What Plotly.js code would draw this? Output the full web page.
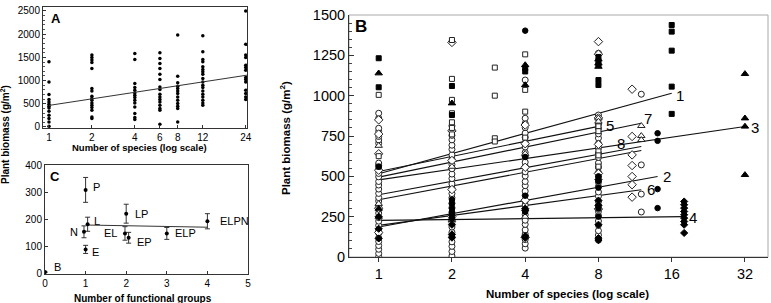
<!DOCTYPE html>
<html><head><meta charset="utf-8">
<script src="https://cdn.plot.ly/plotly-3.0.1.min.js"></script>
<style>html,body{margin:0;padding:0;background:#fff}#chart{width:771px;height:303px}</style>
</head><body><div id="chart"></div>
<script>
// ---------- Panel A: biomass vs species (log) ----------
const aX = [1,1,1,1,1,1,1,1,1,1,1,1,1,
  2,2,2,2,2,2,2,2,2,2,2,2,2,2,2,2,
  4,4,4,4,4,4,4,4,4,4,4,4,4,4,
  6,6,6,6,6,6,6,6,6,6,6,6,6,6,6,6,
  8,8,8,8,8,8,8,8,8,8,8,8,8,
  12,12,12,12,12,12,12,12,12,12,12,12,12,12,12,12,12,12,
  24,24,24,24,24,24,24,24,24,24,24,24,24,24];
const aY = [1405,972,700,592,540,490,447,411,339,253,181,108,15,
  1549,1499,1441,1392,1262,830,778,663,613,577,519,469,419,361,216,181,
  1586,1456,938,851,793,735,685,635,577,519,432,289,203,160,
  1599,1478,1370,1262,1139,1024,864,808,707,648,592,540,469,398,361,58,
  1982,1096,951,880,830,778,722,648,577,506,447,398,108,
  1966,1621,1456,1405,1297,1240,1189,1139,1046,972,901,851,778,707,648,577,519,469,
  2500,1781,1549,1499,1333,1283,1225,1068,1024,972,793,722,648,592];
const aFitX = [1, 24.5];
const aFitY = [465, 1117];
const aTicks = [1,2,4,6,8,12,24];

// ---------- Panel C: functional groups ----------
const cX = [0, 1, 1.05, 0.96, 1.0, 2.0, 1.97, 2.06, 3.0, 4.0];
const cY = [4, 308, 181, 153, 88, 220, 147, 131, 147, 192];
const cErr = [0, 46, 26, 22, 15, 35, 25, 20, 22, 28];
const cLabels = ['B','P','L','N','E','LP','EL','EP','ELP','ELPN'];
const cFitX = [1.05, 4.0];
const cFitY = [178, 170];

// ---------- Panel B: sites ----------
const ocX = [1,1,1,1,1,1,1,1,1,1,1,1,1,1,1,1,1,1,1,1,1,1,1,1,1,1,1,1,1,1,1,1,
  2,2,2,2,2,2,2,2,2,2,2,2,2,2,2,2,2,2,2,2,2,2,2,2,2,2,2,2,2,
  4,4,4,4,4,4,4,4,4,4,4,4,4,4,4,4,4,4,4,4,4,4,4,4,4,4,4,4,4,
  8,8,8,8,8,8,8,8,8,8,8,8,8,8,8,8,8,8,8,8,8,8,8,8,8,8,8,8,
  12,12,12,12];
const ocY = [2,22,48,71,96,118,147,168,196,222,244,272,296,318,347,368,394,421,446,468,497,518,544,568,582,705,726,747,778,798,860,891,
  6,34,66,94,126,153,186,213,247,274,306,333,367,393,427,453,486,514,547,573,606,633,667,693,726,754,786,813,1335,
  55,82,108,142,168,202,228,262,288,322,348,382,408,442,468,502,528,562,588,622,648,682,708,742,768,802,828,860,1097,
  104,136,163,197,223,257,283,317,343,377,403,437,463,497,523,557,583,617,643,677,703,737,763,797,823,857,880,1263,
  1009,571,390,279];
const odX = [1,1,1,1,1,1, 2,2,2,2,2, 4,4,4,4,4, 8,8,8,8,8,8, 11,11,11,11,11,11,11];
const odY = [850,762,640,538,302,152, 1330,782,598,418,252, 818,702,556,352,122, 1335,1257,862,698,518,298, 1040,747,633,567,499,448,371];
const osX = [1,1,1, 2,2,2,2,2,2,2, 3,3,3,3, 4,4,4,4, 8,8,8,8,8];
const osY = [1005,625,560, 1345,1104,974,891,835,800,760, 1174,1000,736,716, 1256,1036,901,740, 810,780,655,630,560];
const fsX = [1,1, 2,2, 4,4, 8,8,8,8,8, 16,16,16,16,16];
const fsY = [1232,1052, 1060,880, 1170,1150, 1240,1215,1190,1097,1066, 1438,1397,1279,1056,887];
const ftX = [1,1, 2,2, 4,4, 8,8,8, 32,32,32,32];
const ftY = [1139,300, 953,240, 1190,1066, 1225,1200,1180, 1135,860,809,509];
const fcX = [1, 2,2,2,2,2,2,2, 4,4,4,4, 8,8,8,8,8, 14,14,14,14];
const fcY = [560, 355,330,300,280,260,240,130, 1403,620,380,280, 500,470,430,300,250, 767,720,421,303];
const fdX = [1,1,1, 2,2,2, 4,4,4,4, 8,8,8,8,8,8, 18,18,18,18,18,18,18,18,18];
const fdY = [115,175,250, 120,140,200, 120,130,290,300, 105,117,200,320,350,480, 344,324,303,282,262,241,220,200,149];
const otX = [1,1,1, 2,2, 4,4, 8,8, 12,12,12];
const otY = [690,330,250, 560,230, 640,250, 860,840, 813,751,726];

// regression lines per site: start/end points
const lineNames = ['1','5','7','8','3','9','2','6','4'];
const lineX0 = [1,1,1,1,1,1,1,1,1];
const lineY0 = [516,530,495,386,478,355,186,196,227];
const lineX1 = [16,8,12,12,32,12,14,12,17.8];
const lineY1 = [1015,810,829,685,809,660,499,417,250];
const labelText = ['1','5','7','8','3','2','6','4'];
const labelX = [17.3,8.9,12.8,9.9,35.2,15.3,13.1,19.6];
const labelY = [1000,815,860,705,800,500,420,245];
const bTicks = [1,2,4,8,16,32];

// ---------- geometry helpers (pixel -> paper) ----------
const W = 771, H = 303;
const dx = (a,b) => [a/W, b/W];
const dy = (top,bot) => [1-bot/H, 1-top/H];

const traces = [];
traces.push({x:aX, y:aY, xaxis:'x', yaxis:'y', mode:'markers', type:'scatter',
  marker:{color:'#000', size:3.5, symbol:'circle'}, hoverinfo:'skip'});
traces.push({x:aFitX, y:aFitY, xaxis:'x', yaxis:'y', mode:'lines', type:'scatter',
  line:{color:'#333', width:1}, hoverinfo:'skip'});

traces.push({x:cFitX, y:cFitY, xaxis:'x2', yaxis:'y2', mode:'lines', type:'scatter',
  line:{color:'#333', width:1}, hoverinfo:'skip'});
traces.push({x:cX, y:cY, xaxis:'x2', yaxis:'y2', mode:'markers', type:'scatter',
  marker:{color:'#000', size:4},
  error_y:{type:'data', array:cErr, color:'#333', thickness:1, width:2.5}, hoverinfo:'skip'});

for (let i=0;i<lineNames.length;i++){
  traces.push({x:[lineX0[i], lineX1[i]], y:[lineY0[i], lineY1[i]], xaxis:'x3', yaxis:'y3',
    mode:'lines', type:'scatter', line:{color:'#111', width:1.2}, hoverinfo:'skip'});
}
const mk = (x,y,sym,sz) => ({x:x, y:y, xaxis:'x3', yaxis:'y3', mode:'markers', type:'scatter',
  marker:{symbol:sym, size:sz, color:'#000', line:{color:'#000', width:1}}, hoverinfo:'skip'});
const openMk = (x,y,sym,sz) => ({x:x, y:y, xaxis:'x3', yaxis:'y3', mode:'markers', type:'scatter',
  marker:{symbol:sym, size:sz, color:'#fff', line:{color:'#222', width:1}}, hoverinfo:'skip'});
traces.push(openMk(ocX, ocY, 'circle', 6));
traces.push(openMk(odX, odY, 'diamond', 6.5));
traces.push(openMk(osX, osY, 'square', 5));
traces.push(openMk(otX, otY, 'triangle-up', 6.5));
traces.push(mk(fcX, fcY, 'circle', 5.5));
traces.push(mk(fdX, fdY, 'diamond', 5.5));
traces.push(mk(fsX, fsY, 'square', 5));
traces.push(mk(ftX, ftY, 'triangle-up', 6.5));

const FONT = 'Liberation Sans, Arial, sans-serif';
const annotations = [];
const pAnn = (text, px, py, size, extra) => Object.assign({text:text, xref:'paper', yref:'paper',
  x:px/W, y:1-py/H, showarrow:false, xanchor:'center', yanchor:'middle',
  font:{size:size, family:FONT, color:'#000'}}, extra || {});
// panel letters
annotations.push(pAnn('<b>A</b>', 56, 19, 13));
annotations.push(pAnn('<b>C</b>', 55, 176, 13));
annotations.push(pAnn('<b>B</b>', 361, 26, 17));
// axis titles
annotations.push(pAnn('<b>Number of species (log scale)</b>', 139, 147, 9.5));
annotations.push(pAnn('<b>Number of functional groups</b>', 143, 298, 10));
annotations.push(pAnn('<b>Plant biomass (g/m<sup>2</sup>)</b>', 5, 135, 10, {textangle:-90}));
annotations.push(pAnn('<b>Plant biomass (g/m<sup>2</sup>)</b>', 285, 138, 11.5, {textangle:-90}));
annotations.push(pAnn('<b>Number of species (log scale)</b>', 567, 294, 11.5));
// panel C labels
const cLabelDX = [12, 11, 9, -10, 10, 15, -14, 16, 19, 27];
const cLabelDY = [-5, -3, -3, 0, 3, 0, 0, 4, 0, 0];
for (let i=0;i<cLabels.length;i++){
  annotations.push({text:cLabels[i], xref:'x2', yref:'y2', x:cX[i], y:cY[i], showarrow:false,
    xanchor:'center', yanchor:'middle',
    xshift:cLabelDX[i], yshift:-cLabelDY[i], font:{size:11, family:FONT, color:'#000'}});
}
// panel B line labels
for (let i=0;i<labelText.length;i++){
  annotations.push({text:labelText[i], xref:'x3', yref:'y3', x:Math.log10(labelX[i]), y:labelY[i], showarrow:false,
    xanchor:'center', yanchor:'middle', font:{size:15, family:FONT, color:'#000'}});
}

const axBase = {showgrid:false, zeroline:false, linecolor:'#333', linewidth:1, color:'#000',
  tickfont:{size:10, family:FONT, color:'#000'}, tickcolor:'#333'};

const layout = {
  width:W, height:H, margin:{l:0,r:0,t:0,b:0}, showlegend:false,
  paper_bgcolor:'#fff', plot_bgcolor:'rgba(0,0,0,0)',
  xaxis: Object.assign({}, axBase, {domain:dx(43,247), type:'log', range:[Math.log10(0.908), Math.log10(24.5)],
    tickvals:aTicks, ticktext:aTicks.map(String), ticks:'inside', ticklen:3, mirror:true, anchor:'y'}),
  yaxis: Object.assign({}, axBase, {domain:dy(7,128), range:[-22,2586], dtick:500, ticks:'inside', ticklen:3,
    minor:{dtick:100, ticks:'inside', ticklen:2, tickcolor:'#555'}, mirror:true, anchor:'x'}),
  xaxis2: Object.assign({}, axBase, {domain:dx(45,248), range:[0,5], dtick:1, ticks:'inside', ticklen:3, mirror:true, anchor:'y2'}),
  yaxis2: Object.assign({}, axBase, {domain:dy(165,274), range:[-3,400], dtick:100, ticks:'inside', ticklen:3, mirror:true, anchor:'x2'}),
  xaxis3: Object.assign({}, axBase, {domain:dx(349,768), type:'log', range:[Math.log10(0.755), Math.log10(39.8)],
    tickvals:bTicks, ticktext:bTicks.map(String), ticks:'outside', ticklen:4, anchor:'y3',
    tickfont:{size:14.5, family:FONT, color:'#000'}}),
  yaxis3: Object.assign({}, axBase, {domain:dy(15,257), range:[0,1500], dtick:250, ticks:'inside', ticklen:5,
    minor:{dtick:50, ticks:'inside', ticklen:3, tickcolor:'#444'}, anchor:'x3',
    tickfont:{size:14.5, family:FONT, color:'#000'}}),
  shapes:[{type:'rect', xref:'paper', yref:'paper', x0:349/W, x1:768/W, y0:1-257/H, y1:1-15/H,
    line:{color:'#aaa', width:1}, layer:'below'}],
  annotations: annotations
};
Plotly.newPlot('chart', traces, layout, {staticPlot:true, displayModeBar:false});
</script></body></html>
